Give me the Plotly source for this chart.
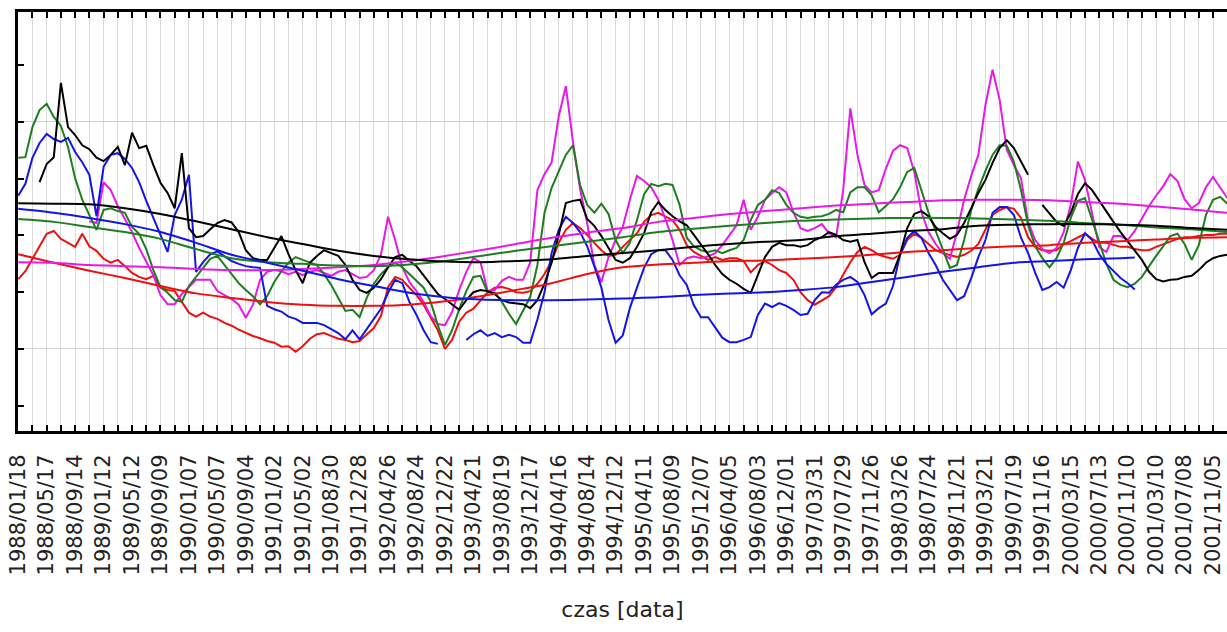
import pandas as pd
import plotly.graph_objects as go

# ---------------- data ----------------
START = "1988-01-18"
N_POINTS = 171          # one reading every 30 days
STEP_DAYS = 30

tick_labels = [
    "1988/01/18", "1988/05/17", "1988/09/14", "1989/01/12", "1989/05/12", "1989/09/09",
    "1990/01/07", "1990/05/07", "1990/09/04", "1991/01/02", "1991/05/02", "1991/08/30",
    "1991/12/28", "1992/04/26", "1992/08/24", "1992/12/22", "1993/04/21", "1993/08/19",
    "1993/12/17", "1994/04/16", "1994/08/14", "1994/12/12", "1995/04/11", "1995/08/09",
    "1995/12/07", "1996/04/05", "1996/08/03", "1996/12/01", "1997/03/31", "1997/07/29",
    "1997/11/26", "1998/03/26", "1998/07/24", "1998/11/21", "1999/03/21", "1999/07/19",
    "1999/11/16", "2000/03/15", "2000/07/13", "2000/11/10", "2001/03/10", "2001/07/08",
    "2001/11/05",
]

black = [
    None, None, None, 4.94, 5.26, 5.38, 6.69, 5.91, 5.77, 5.59,
    5.52, 5.37, 5.31, 5.42, 5.56, 5.24, 5.81, 5.54, 5.58, 5.24,
    4.93, 4.75, 4.48, 5.45, 4.13, 3.97, 3.99, 4.11, 4.22, 4.27,
    4.23, 4.06, 3.74, 3.60, 3.57, 3.57, 3.78, 3.99, 3.67, 3.39,
    3.16, 3.52, 3.64, 3.74, 3.69, 3.64, 3.48, 3.22, 3.04, 2.99,
    3.08, 3.23, 3.44, 3.62, 3.66, 3.55, 3.46, 3.30, 3.13, 2.97,
    2.88, 2.78, 2.69, 2.86, 3.00, 3.04, 3.02, 2.97, 2.86, 2.82,
    2.81, 2.79, 2.72, 2.86, 3.15, 3.52, 4.01, 4.57, 4.61, 4.63,
    4.29, 4.17, 3.99, 3.78, 3.57, 3.52, 3.60, 3.80, 4.04, 4.41,
    4.59, 4.45, 4.34, 4.25, 4.18, 4.01, 3.85, 3.67, 3.48, 3.32,
    3.22, 3.15, 3.06, 2.99, 3.30, 3.62, 3.80, 3.87, 3.83, 3.83,
    3.80, 3.83, 3.92, 3.97, 4.06, 4.01, 3.92, 3.89, 3.92, 3.53,
    3.25, 3.34, 3.34, 3.34, 3.67, 4.13, 4.38, 4.43, 4.34, 4.15,
    4.04, 3.94, 4.01, 4.22, 4.48, 4.75, 4.98, 5.28, 5.54, 5.68,
    5.54, 5.31, 5.07, None, 4.54, 4.38, 4.24, 4.17, 4.40, 4.73,
    4.92, 4.80, 4.61, 4.41, 4.24, 4.06, 3.89, 3.74, 3.57, 3.36,
    3.23, 3.19, 3.22, 3.23, 3.27, 3.29, 3.39, 3.52, 3.60, 3.64,
    3.66,
]

green = [
    5.37, 5.38, 5.91, 6.21, 6.32, 6.09, 5.93, 5.56, 5.01, 4.63,
    4.36, 4.10, 4.45, 4.48, 4.43, 4.40, 4.15, 4.03, 3.76, 3.39,
    3.09, 2.99, 2.86, 2.83, 3.11, 3.27, 3.41, 3.59, 3.64, 3.48,
    3.34, 3.16, 3.04, 2.93, 2.79, 2.93, 3.18, 3.37, 3.52, 3.62,
    3.57, 3.53, 3.48, 3.32, 3.13, 2.90, 2.67, 2.69, 2.56, 2.90,
    3.15, 3.32, 3.44, 3.52, 3.44, 3.32, 3.20, 3.08, 2.83, 2.42,
    2.07, 2.33, 2.70, 3.02, 3.27, 3.29, 3.00, 2.99, 2.83, 2.62,
    2.44, 2.67, 2.92, 3.48, 4.40, 4.84, 5.12, 5.42, 5.59, 4.89,
    4.54, 4.40, 4.56, 4.38, 3.92, 3.69, 3.87, 4.27, 4.73, 4.91,
    4.87, 4.91, 4.89, 4.54, 3.96, 3.81, 3.74, 3.71, 3.74, 3.69,
    3.74, 3.78, 3.92, 4.27, 4.54, 4.63, 4.80, 4.75, 4.54, 4.40,
    4.33, 4.31, 4.33, 4.34, 4.38, 4.45, 4.41, 4.76, 4.85, 4.85,
    4.71, 4.41, 4.52, 4.64, 4.85, 5.12, 5.19, 4.80, 4.40, 4.08,
    3.74, 3.43, 3.48, 3.92, 4.45, 4.82, 5.14, 5.42, 5.59, 5.58,
    5.30, 4.80, 4.18, 3.81, 3.60, 3.44, 3.60, 3.87, 4.31, 4.61,
    4.66, 4.27, 3.87, 3.50, 3.22, 3.13, 3.09, 3.15, 3.27, 3.46,
    3.64, 3.81, 3.99, 4.03, 3.85, 3.57, 3.83, 4.36, 4.63, 4.68,
    4.56,
]

blue = [
    4.70, 4.91, 5.37, 5.63, 5.79, 5.70, 5.65, 5.72, 5.47, 5.29,
    5.07, 4.34, 5.21, 5.42, 5.45, 5.35, 5.19, 4.94, 4.61, 4.31,
    4.01, 3.71, 4.36, 4.63, 5.07, 3.36, 3.53, 3.67, 3.72, 3.64,
    3.55, 3.50, 3.46, 3.44, 3.43, 2.76, 2.70, 2.66, 2.57, 2.53,
    2.46, 2.46, 2.46, 2.42, 2.35, 2.28, 2.17, 2.33, 2.17, 2.35,
    2.53, 2.71, 2.99, 3.22, 3.16, 2.83, 2.60, 2.33, 2.12, 2.09,
    None, None, None, 2.16, 2.26, 2.33, 2.23, 2.28, 2.21, 2.25,
    2.21, 2.11, 2.11, 2.52, 3.00, 3.69, 4.10, 4.33, 4.22, 4.06,
    3.81, 3.46, 3.08, 2.51, 2.11, 2.24, 2.72, 3.08, 3.43, 3.67,
    3.74, 3.74, 3.57, 3.30, 3.13, 2.77, 2.56, 2.56, 2.38, 2.20,
    2.12, 2.12, 2.16, 2.21, 2.60, 2.80, 2.74, 2.81, 2.76, 2.69,
    2.60, 2.62, 2.86, 3.00, 2.99, 3.13, 3.22, 3.27, 3.18, 2.95,
    2.61, 2.72, 2.80, 3.11, 3.66, 3.96, 4.08, 3.96, 3.69, 3.48,
    3.22, 3.04, 2.86, 2.93, 3.25, 3.62, 3.92, 4.40, 4.50, 4.50,
    4.36, 3.96, 3.69, 3.34, 3.04, 3.09, 3.18, 3.08, 3.39, 3.78,
    4.04, 3.92, 3.67, 3.50, 3.37, 3.25, 3.16, 3.05, None, None,
    None, None, None, None, None, None, None, None, None, None,
    None,
]

magenta = [
    None, None, None, None, None, None, None, None, None, None,
    4.25, 4.22, 4.94, 4.80, 4.52, 4.29, 4.06, 3.78, 3.53, 3.30,
    2.95, 2.79, 2.79, 2.97, 3.09, 3.22, 3.22, 3.22, 3.02, 2.95,
    2.88, 2.78, 2.55, 2.78, 3.22, 3.36, 3.39, 3.37, 3.32, 3.36,
    3.30, 3.36, 3.39, 3.34, 3.29, 3.36, 3.39, 3.32, 3.25, 3.27,
    3.39, 3.66, 4.33, 3.92, 3.44, 3.18, 3.02, 2.83, 2.58, 2.44,
    2.42, 2.65, 3.04, 3.36, 3.60, 3.53, 3.02, 3.04, 3.20, 3.27,
    3.22, 3.22, 3.53, 4.80, 5.08, 5.29, 6.10, 6.63, 5.65, 4.82,
    4.22, 3.48, 3.18, 3.62, 3.92, 4.15, 4.63, 5.05, 4.96, 4.85,
    4.63, 4.29, 3.92, 3.48, 3.60, 3.63, 3.60, 3.63, 3.69, 3.83,
    4.01, 4.18, 4.63, 4.10, 4.33, 4.63, 4.75, 4.85, 4.76, 4.41,
    4.13, 4.08, 4.13, 4.20, 4.04, 3.97, 4.80, 6.24, 5.42, 4.89,
    4.76, 4.80, 5.18, 5.49, 5.59, 5.54, 5.12, 4.41, 4.06, 3.85,
    3.69, 3.59, 4.06, 4.63, 5.05, 5.42, 6.30, 6.92, 6.39, 5.51,
    5.24, 5.01, 4.24, 3.92, 3.76, 3.69, 3.78, 4.06, 4.54, 5.30,
    4.98, 4.40, 3.80, 3.71, 3.99, 3.99, 3.92, 4.08, 4.31, 4.52,
    4.70, 4.87, 5.08, 4.96, 4.64, 4.48, 4.57, 4.85, 5.03, 4.85,
    4.66,
]

red = [
    3.23, 3.37, 3.59, 3.80, 4.03, 4.08, 3.94, 3.87, 3.80, 4.03,
    3.81, 3.73, 3.59, 3.52, 3.57, 3.46, 3.34, 3.27, 3.23, 3.29,
    3.08, 3.04, 3.02, 2.83, 2.64, 2.57, 2.64, 2.57, 2.53, 2.46,
    2.41, 2.34, 2.28, 2.23, 2.19, 2.14, 2.11, 2.04, 2.05, 1.95,
    2.05, 2.18, 2.26, 2.28, 2.23, 2.18, 2.16, 2.12, 2.14, 2.26,
    2.37, 2.58, 3.09, 3.27, 3.22, 3.08, 2.95, 2.78, 2.55, 2.33,
    2.00, 2.16, 2.48, 2.64, 2.71, 2.85, 3.00, 3.08, 3.09, 3.06,
    3.00, 2.99, 3.02, 3.15, 3.32, 3.55, 3.87, 4.10, 4.22, 4.13,
    4.01, 3.87, 3.74, 3.64, 3.66, 3.80, 3.92, 4.04, 4.24, 4.36,
    4.40, 4.34, 4.27, 4.10, 3.83, 3.71, 3.64, 3.57, 3.62, 3.57,
    3.60, 3.60, 3.55, 3.35, 3.48, 3.55, 3.48, 3.39, 3.34, 3.22,
    3.00, 2.86, 2.78, 2.86, 2.93, 3.09, 3.30, 3.53, 3.71, 3.80,
    3.74, 3.66, 3.62, 3.59, 3.66, 3.92, 4.03, 3.96, 3.85, 3.74,
    3.69, 3.66, 3.62, 3.66, 3.73, 3.85, 4.10, 4.36, 4.45, 4.50,
    4.47, 4.31, 3.97, 3.80, 3.74, 3.73, 3.74, 3.85, 3.90, 3.96,
    4.03, 3.94, 3.87, 3.87, 3.83, 3.80, 3.80, 3.76, 3.74, 3.74,
    3.80, 3.85, 3.90, 3.94, 3.97, 3.97, 3.99, 4.01, 4.01, 4.03,
    4.03,
]

# fitted (smoothed) trend curves, one value every 150 days
fit_days = list(range(0, 5101, 150))
blue_fit_days = fit_days[:32] + [4710]

black_fit = [4.57, 4.56, 4.55, 4.48, 4.38, 4.25, 4.11, 3.97, 3.85, 3.73, 3.64, 3.58,
             3.54, 3.53, 3.55, 3.58, 3.64, 3.69, 3.74, 3.80, 3.85, 3.89, 3.92, 3.99,
             4.03, 4.08, 4.11, 4.17, 4.19, 4.20, 4.20, 4.19, 4.17, 4.13, 4.10]
green_fit = [4.29, 4.24, 4.15, 4.06, 3.94, 3.76, 3.60, 3.53, 3.50, 3.47, 3.46, 3.49,
             3.55, 3.64, 3.73, 3.81, 3.89, 3.97, 4.06, 4.12, 4.17, 4.22, 4.26, 4.28,
             4.30, 4.31, 4.31, 4.30, 4.28, 4.26, 4.22, 4.19, 4.14, 4.11, 4.06]
blue_fit = [4.47, 4.40, 4.31, 4.20, 4.06, 3.87, 3.66, 3.52, 3.38, 3.23, 3.11, 2.99,
            2.91, 2.87, 2.86, 2.86, 2.87, 2.89, 2.91, 2.95, 2.98, 3.00, 3.04, 3.09,
            3.18, 3.27, 3.36, 3.44, 3.52, 3.55, 3.58, 3.60, 3.61]
magenta_fit = [3.53, 3.52, 3.48, 3.46, 3.44, 3.41, 3.39, 3.39, 3.41, 3.44, 3.48, 3.55,
               3.64, 3.74, 3.85, 3.96, 4.05, 4.13, 4.24, 4.31, 4.38, 4.43, 4.48, 4.53,
               4.56, 4.59, 4.62, 4.63, 4.63, 4.62, 4.59, 4.56, 4.51, 4.46, 4.40]
red_fit = [3.67, 3.52, 3.38, 3.25, 3.11, 2.98, 2.90, 2.83, 2.78, 2.76, 2.76, 2.78,
           2.84, 2.93, 3.04, 3.16, 3.32, 3.44, 3.49, 3.52, 3.55, 3.56, 3.59, 3.62,
           3.66, 3.71, 3.74, 3.78, 3.81, 3.83, 3.87, 3.90, 3.93, 3.96, 3.97]

# ---------------- figure ----------------
t0 = pd.Timestamp(START)
dates = pd.date_range(START, periods=N_POINTS, freq=f"{STEP_DAYS}D")
fit_dates = [t0 + pd.Timedelta(days=d) for d in fit_days]
blue_fit_dates = [t0 + pd.Timedelta(days=d) for d in blue_fit_days]
tick_dates = pd.to_datetime(tick_labels, format="%Y/%m/%d")

COL = {"black": "#000000", "green": "#1e7d1e", "blue": "#1414e6",
       "magenta": "#e619e6", "red": "#ee1010"}

fig = go.Figure()
series = [("red", red), ("magenta", magenta), ("green", green),
          ("blue", blue), ("black", black)]
for name, vals in series:
    fig.add_trace(go.Scatter(x=dates, y=vals, mode="lines", name=name,
                             line=dict(color=COL[name], width=2),
                             connectgaps=False, hoverinfo="skip"))

fits = [("red", fit_dates, red_fit), ("magenta", fit_dates, magenta_fit),
        ("green", fit_dates, green_fit), ("blue", blue_fit_dates, blue_fit),
        ("black", fit_dates, black_fit)]
for name, xs, vals in fits:
    fig.add_trace(go.Scatter(x=xs, y=vals, mode="lines", name=name + " fit",
                             line=dict(color=COL[name], width=2, shape="spline",
                                       smoothing=0.8),
                             hoverinfo="skip"))

DAY_MS = 86400000
fig.update_layout(
    width=1227, height=632,
    margin=dict(l=18, r=0, t=12, b=201, autoexpand=False),
    paper_bgcolor="white", plot_bgcolor="white",
    showlegend=False,
    font=dict(family="Liberation Sans, Arial, sans-serif", color="#1a1a1a"),
)
fig.update_xaxes(
    type="date",
    range=["1988-01-17", "2002-01-03"],
    tickmode="array", tickvals=tick_dates, ticktext=tick_labels,
    tickangle=-90,
    tickfont=dict(family="DejaVu Sans", size=21, color="#222222"),
    ticklabeloverflow="allow",
    ticks="inside", ticklen=6, tickwidth=1.5, tickcolor="black",
    ticklabelstandoff=12,
    showline=True, linewidth=3, linecolor="black", mirror="ticks",
    showgrid=True, gridcolor="#dadada", gridwidth=1,
    minor=dict(tick0=START, dtick=60 * DAY_MS, ticks="inside", ticklen=6,
               tickwidth=1.5, tickcolor="black", showgrid=True,
               gridcolor="#dadada", gridwidth=1),
    zeroline=False, automargin=False,
    title=dict(text="czas [data]", font=dict(family="DejaVu Sans", size=22,
                                             color="#222222"), standoff=28),
)
fig.update_yaxes(
    range=[0.555, 7.938],
    tick0=2, dtick=4,
    ticks="inside", ticklen=6, tickwidth=1.5, tickcolor="black",
    showticklabels=False,
    showline=True, linewidth=3, linecolor="black", mirror=False,
    showgrid=True, gridcolor="#cfcfcf", gridwidth=1,
    minor=dict(tick0=0, dtick=1, ticks="inside", ticklen=6, tickwidth=1.5,
               tickcolor="black", showgrid=False),
    zeroline=False, automargin=False,
)

# remove the browser's default 8 px page margin so the figure fills the window
fig.write_html("out.html",
               config={"displayModeBar": False},
               post_script="document.body.style.margin='0px';"
                           "document.body.style.overflow='hidden';")
